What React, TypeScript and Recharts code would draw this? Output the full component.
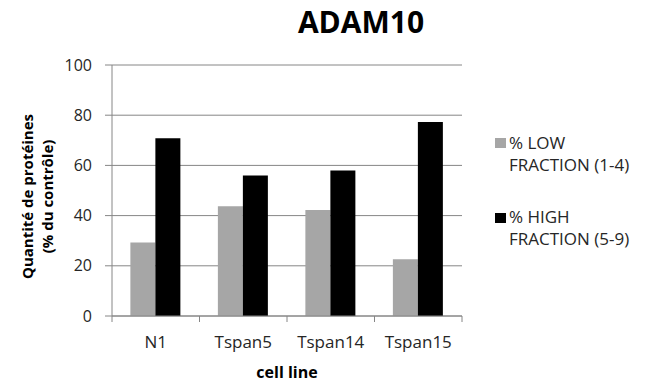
import React from 'react';
import { BarChart, Bar, XAxis, YAxis, CartesianGrid } from 'recharts';

const categories = ['N1', 'Tspan5', 'Tspan14', 'Tspan15'];
const lowFraction = [29.3, 43.7, 42.2, 22.6];
const highFraction = [70.8, 56.0, 58.0, 77.3];
const yTicks = [0, 20, 40, 60, 80, 100];
const lowName = ['% LOW', 'FRACTION (1-4)'];
const highName = ['% HIGH', 'FRACTION (5-9)'];
const title = 'ADAM10';
const yLabelLines = ['Quantité de protéines', '(% du contrôle)'];
const xLabel = 'cell line';

const data = categories.map((c, i) => ({ cat: c, low: lowFraction[i], high: highFraction[i] }));

const FONT = "'Open Sans', sans-serif";
const GRID = '#868686';
const TEXT = '#262626';
const X_TICK_MARGIN = 20;

const renderYLabel = (props: any) => {
  const vb = props.viewBox || { x: 0, y: 65, width: 112, height: 251 };
  const cy = vb.y + vb.height / 2 + 6;
  return (
    <g>
      <text transform={`translate(${vb.x + 27},${cy}) rotate(-90)`} textAnchor="middle" dominantBaseline="central"
        fontFamily={FONT} fontSize={15} fontWeight="bold" fill="#000">{yLabelLines[0]}</text>
      <text transform={`translate(${vb.x + 47},${cy}) rotate(-90)`} textAnchor="middle" dominantBaseline="central"
        fontFamily={FONT} fontSize={15} fontWeight="bold" fill="#000">{yLabelLines[1]}</text>
    </g>
  );
};

const CatTick = (props: any) => {
  const { x, y, payload, index, visibleTicksCount } = props;
  const half = payload && typeof payload.offset === 'number' && payload.offset > 0 ? payload.offset : 43.75;
  const axisY = y - X_TICK_MARGIN;
  const isLast = index === (visibleTicksCount ?? categories.length) - 1;
  return (
    <g>
      <line x1={x - half} x2={x - half} y1={axisY} y2={axisY + 6} stroke={GRID} />
      {isLast && <line x1={x + half} x2={x + half} y1={axisY} y2={axisY + 6} stroke={GRID} />}
      <text x={x} y={y} dy="0.71em" textAnchor="middle" fontFamily={FONT} fontSize={17} fill={TEXT}>
        {payload.value}
      </text>
    </g>
  );
};

export default function App() {
  return (
    <div style={{ position: 'absolute', left: 0, top: 0, width: 653, height: 387, background: '#fff' }}>
      <BarChart width={653} height={387} data={data}
        margin={{ top: 65, right: 191, bottom: 0, left: 0 }}
        barCategoryGap="21%" barGap={0}>
        <CartesianGrid horizontal vertical={false} stroke={GRID} strokeWidth={1} />
        <XAxis dataKey="cat" height={71} axisLine={{ stroke: GRID }} tickLine={false}
          tickSize={0} tickMargin={X_TICK_MARGIN} interval={0}
          tick={<CatTick />}
          label={{ value: xLabel, position: 'insideBottom', offset: 9, fontFamily: FONT, fontSize: 16, fontWeight: 'bold', fill: '#000' }} />
        <YAxis width={112} domain={[0, 100]} ticks={yTicks} interval={0}
          axisLine={{ stroke: GRID }} tickLine={{ stroke: GRID }} tickSize={7} tickMargin={13}
          tick={{ fontFamily: FONT, fontSize: 16, fill: TEXT }}
          label={{ content: renderYLabel }} />
        <Bar dataKey="low" fill="#A6A6A6" isAnimationActive={false} />
        <Bar dataKey="high" fill="#000000" isAnimationActive={false} />
      </BarChart>
      <svg width={653} height={387} style={{ position: 'absolute', left: 0, top: 0, pointerEvents: 'none' }}>
        <text x={361} y={33} textAnchor="middle" fontFamily={FONT} fontSize={30} fontWeight="bold" fill="#000">{title}</text>
        <rect x={495} y={138} width={11} height={10} fill="#A6A6A6" />
        <text x={509} y={149} fontFamily={FONT} fontSize={17} fill={TEXT}>{lowName[0]}</text>
        <text x={509} y={171} fontFamily={FONT} fontSize={17} fill={TEXT}>{lowName[1]}</text>
        <rect x={495} y={213} width={11} height={10} fill="#000" />
        <text x={509} y={223} fontFamily={FONT} fontSize={17} fill={TEXT}>{highName[0]}</text>
        <text x={509} y={245} fontFamily={FONT} fontSize={17} fill={TEXT}>{highName[1]}</text>
      </svg>
    </div>
  );
}
